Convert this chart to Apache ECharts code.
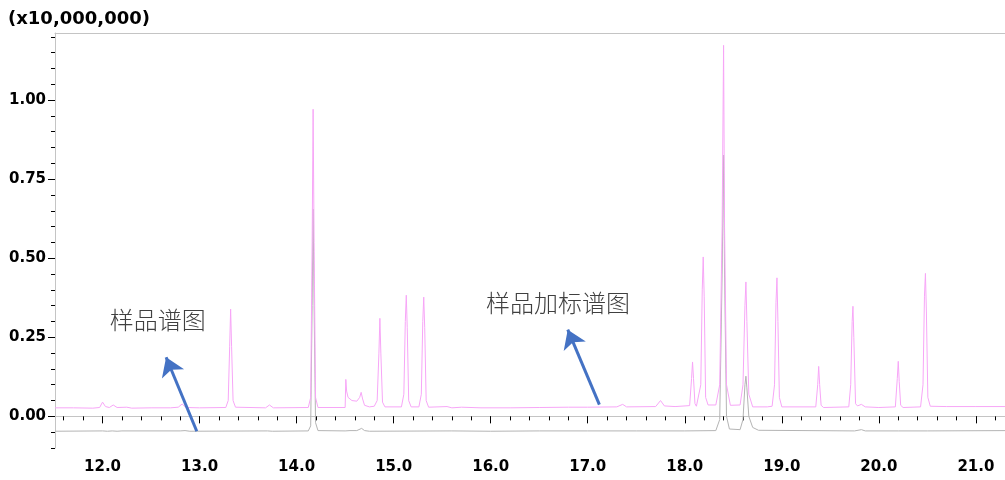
<!DOCTYPE html>
<html>
<head>
<meta charset="utf-8">
<script src="https://cdn.jsdelivr.net/npm/echarts@6/dist/echarts.min.js"></script>
<style>
  html, body { margin: 0; padding: 0; background: #fff; }
  #chart { width: 1005px; height: 480px; }
</style>
</head>
<body>
<div id="chart"></div>
<script>
// 样品加标谱图 (time min, intensity x10,000,000)
var spiked = [
  [11.51, 0.027], [11.7, 0.027], [11.9, 0.026], [11.97, 0.028], [12.0, 0.045], [12.03, 0.031],
  [12.07, 0.028], [12.11, 0.036], [12.15, 0.028], [12.25, 0.029], [12.3, 0.026], [12.5, 0.027],
  [12.7, 0.027], [12.78, 0.029], [12.82, 0.039], [12.86, 0.028], [13.0, 0.027], [13.27, 0.028],
  [13.295, 0.05], [13.31, 0.22], [13.32, 0.339], [13.33, 0.22], [13.345, 0.05], [13.37, 0.029],
  [13.68, 0.027], [13.72, 0.036], [13.76, 0.027], [14.12, 0.028], [14.145, 0.06], [14.16, 0.55],
  [14.17, 0.971], [14.18, 0.55], [14.195, 0.06], [14.22, 0.028], [14.5, 0.028], [14.507, 0.117],
  [14.515, 0.08], [14.53, 0.06], [14.57, 0.05], [14.62, 0.048], [14.65, 0.06], [14.665, 0.076],
  [14.68, 0.055], [14.7, 0.035], [14.75, 0.03], [14.8, 0.032], [14.83, 0.05], [14.848, 0.2],
  [14.858, 0.31], [14.868, 0.2], [14.885, 0.045], [14.91, 0.03], [15.08, 0.03], [15.105, 0.07],
  [15.12, 0.3], [15.13, 0.383], [15.14, 0.28], [15.155, 0.05], [15.18, 0.03], [15.26, 0.03],
  [15.285, 0.07], [15.3, 0.3], [15.31, 0.377], [15.32, 0.28], [15.335, 0.05], [15.36, 0.029],
  [15.55, 0.031], [15.6, 0.027], [15.7, 0.029], [15.9, 0.027], [16.2, 0.027], [16.5, 0.028],
  [16.8, 0.029], [17.0, 0.029], [17.3, 0.03], [17.36, 0.038], [17.4, 0.03], [17.7, 0.031],
  [17.75, 0.05], [17.79, 0.033], [17.9, 0.031], [18.05, 0.034], [18.07, 0.12], [18.08, 0.172],
  [18.09, 0.12], [18.105, 0.04], [18.12, 0.032], [18.14, 0.035], [18.165, 0.1], [18.18, 0.4],
  [18.19, 0.504], [18.2, 0.38], [18.215, 0.06], [18.24, 0.036], [18.32, 0.036], [18.36, 0.1],
  [18.385, 0.6], [18.4, 1.173], [18.41, 0.6], [18.43, 0.1], [18.47, 0.035], [18.57, 0.036],
  [18.6, 0.1], [18.62, 0.35], [18.63, 0.425], [18.64, 0.3], [18.66, 0.07], [18.7, 0.03],
  [18.85, 0.03], [18.9, 0.032], [18.925, 0.1], [18.94, 0.36], [18.95, 0.438], [18.96, 0.3],
  [18.975, 0.06], [19.0, 0.03], [19.35, 0.03], [19.37, 0.1], [19.38, 0.158], [19.39, 0.1],
  [19.405, 0.035], [19.43, 0.028], [19.69, 0.03], [19.71, 0.1], [19.725, 0.3], [19.733, 0.348],
  [19.742, 0.25], [19.76, 0.04], [19.78, 0.033], [19.82, 0.038], [19.86, 0.03], [20.0, 0.028],
  [20.17, 0.03], [20.19, 0.12], [20.2, 0.174], [20.21, 0.11], [20.225, 0.035], [20.25, 0.028],
  [20.43, 0.03], [20.455, 0.1], [20.47, 0.38], [20.48, 0.452], [20.49, 0.33], [20.505, 0.06],
  [20.53, 0.032], [20.7, 0.031], [21.0, 0.031], [21.3, 0.031]
];

// 样品谱图
var sample = [
  [11.51, -0.047], [12.0, -0.046], [12.02, -0.044], [12.05, -0.047], [12.1, -0.046], [12.15, -0.047],
  [12.2, -0.046], [12.8, -0.046], [12.85, -0.045], [12.9, -0.047], [13.7, -0.046], [13.72, -0.044],
  [13.75, -0.047], [14.12, -0.046], [14.145, -0.03], [14.16, 0.35], [14.17, 0.655], [14.18, 0.35],
  [14.195, -0.02], [14.22, -0.045], [14.5, -0.046], [14.52, -0.043], [14.55, -0.045], [14.62, -0.045],
  [14.67, -0.038], [14.7, -0.045], [14.75, -0.047], [15.6, -0.046], [16.0, -0.047], [16.5, -0.046],
  [17.0, -0.046], [17.5, -0.046], [18.0, -0.046], [18.32, -0.045], [18.36, -0.01], [18.385, 0.45],
  [18.4, 0.826], [18.41, 0.45], [18.43, 0.0], [18.46, -0.04], [18.57, -0.042], [18.6, -0.01],
  [18.62, 0.1], [18.63, 0.127], [18.64, 0.09], [18.66, 0.0], [18.7, -0.035], [18.76, -0.044],
  [19.75, -0.046], [19.82, -0.042], [19.86, -0.046], [20.2, -0.046], [20.5, -0.046], [21.3, -0.045]
];

var x_labels = [12, 13, 14, 15, 16, 17, 18, 19, 20, 21];
var x_minor = [11.6, 11.8, 12.0, 12.2, 12.4, 12.6, 12.8, 13.0, 13.2, 13.4, 13.6, 13.8, 14.0, 14.2,
  14.4, 14.6, 14.8, 15.0, 15.2, 15.4, 15.6, 15.8, 16.0, 16.2, 16.4, 16.6, 16.8, 17.0, 17.2, 17.4,
  17.6, 17.8, 18.0, 18.2, 18.4, 18.6, 18.8, 19.0, 19.2, 19.4, 19.6, 19.8, 20.0, 20.2, 20.4, 20.6,
  20.8, 21.0, 21.2];
var y_labels = [0, 0.25, 0.5, 0.75, 1.0];
var y_minor = [-0.1, -0.05, 0, 0.05, 0.1, 0.15, 0.2, 0.25, 0.3, 0.35, 0.4, 0.45, 0.5, 0.55, 0.6,
  0.65, 0.7, 0.75, 0.8, 0.85, 0.9, 0.95, 1.0, 1.05, 1.1, 1.15, 1.2];

// annotations: [text, time, value]
var notes = [['样品谱图', 12.568, 0.306], ['样品加标谱图', 16.693, 0.36]];
// arrows: [from, to]
var arrows = [
  [[12.971, -0.047], [12.655, 0.187]],
  [[17.12, 0.037], [16.794, 0.274]]
];

(function() {
    var x_min = 11.51, x_max = 21.3;
    var y_min = -0.1, y_max = 1.212;
    var axis_color = '#c4c4c4';
    var label_font = {
        color: '#000',
        fontFamily: 'DejaVu Sans',
        fontWeight: 'bold',
        fontSize: 15,
    };

    var option = {
        animation: false,
        grid: { left: 55, right: 0, top: 33, bottom: 32 },
        graphic: [{
            type: 'text',
            left: 8,
            top: 10,
            style: {
                text: '(x10,000,000)',
                fill: '#000',
                fontFamily: 'DejaVu Sans',
                fontWeight: 'bold',
                fontSize: 18,
            },
        }],
        xAxis: [
            {
                type: 'value', min: x_min, max: x_max, position: 'bottom',
                axisLine: { show: true, lineStyle: { color: axis_color } },
                axisTick: { show: true, length: 4, customValues: x_minor, lineStyle: { color: '#000' } },
                axisLabel: { show: false },
                splitLine: { show: false },
            },
            {
                type: 'value', min: x_min, max: x_max, position: 'bottom',
                axisLine: { show: false },
                axisTick: { show: true, length: 7, customValues: x_labels, lineStyle: { color: '#000' } },
                axisLabel: Object.assign({
                    margin: 12,
                    customValues: x_labels,
                    formatter: function(v) { return v.toFixed(1); },
                }, label_font),
                splitLine: { show: false },
            },
            {
                type: 'value', min: x_min, max: x_max, position: 'top',
                axisLine: { show: true, lineStyle: { color: axis_color } },
                axisTick: { show: false },
                axisLabel: { show: false },
                splitLine: { show: false },
            },
        ],
        yAxis: [
            {
                type: 'value', min: y_min, max: y_max, position: 'left',
                axisLine: { show: true, lineStyle: { color: axis_color } },
                axisTick: { show: true, length: 4, customValues: y_minor, lineStyle: { color: '#000' } },
                axisLabel: { show: false },
                splitLine: { show: false },
            },
            {
                type: 'value', min: y_min, max: y_max, position: 'left',
                axisLine: { show: false },
                axisTick: { show: true, length: 7, customValues: y_labels, lineStyle: { color: '#000' } },
                axisLabel: Object.assign({
                    margin: 9,
                    customValues: y_labels,
                    formatter: function(v) { return v.toFixed(2); },
                }, label_font),
                splitLine: { show: false },
            },
        ],
        series: [
            {
                name: '样品谱图',
                type: 'line',
                symbol: 'none',
                data: sample,
                lineStyle: { color: '#b4b4b4', width: 1 },
                z: 2,
            },
            {
                name: '样品加标谱图',
                type: 'line',
                symbol: 'none',
                data: spiked,
                lineStyle: { color: '#f7a6f7', width: 1 },
                z: 3,
                markLine: {
                    silent: true,
                    symbol: ['none', 'arrow'],
                    symbolSize: 18,
                    label: { show: false },
                    lineStyle: { color: '#4472c4', width: 3, type: 'solid' },
                    data: arrows.map(function(a) {
                        return [{ coord: a[0] }, { coord: a[1] }];
                    }),
                },
                markPoint: {
                    silent: true,
                    symbol: 'circle',
                    symbolSize: 0,
                    label: {
                        show: true,
                        position: 'inside',
                        color: '#404040',
                        fontFamily: 'Noto Sans CJK SC',
                        fontWeight: 300,
                        fontSize: 24,
                        formatter: function(p) { return p.name; },
                    },
                    data: notes.map(function(n) {
                        return { name: n[0], coord: [n[1], n[2]] };
                    }),
                },
            },
        ],
    };
    var my_chart = echarts.init(document.getElementById('chart'));
    my_chart.setOption(option);
})();
</script>
</body>
</html>
